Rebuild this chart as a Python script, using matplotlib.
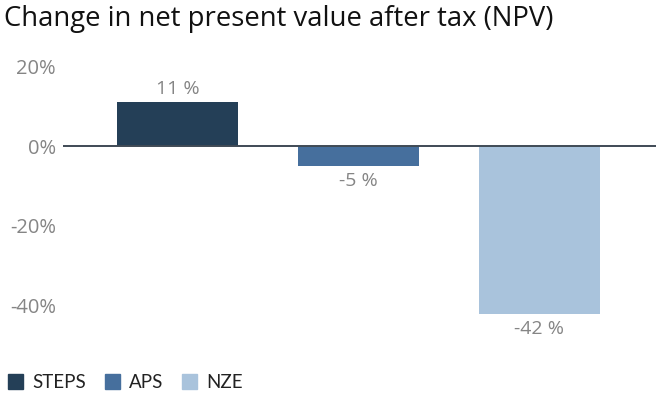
import matplotlib
matplotlib.use('agg')
import matplotlib.pyplot as plt
from matplotlib.patches import Patch

plt.rcParams['font.family'] = ['Open Sans', 'DejaVu Sans']

scenarios = ['STEPS', 'APS', 'NZE']
npv_change = [11, -5, -42]
bar_labels = ['11 %', '-5 %', '-42 %']
colors = ['#243f57', '#466f9d', '#a9c3dc']
yticks = [20, 0, -20, -40]
ytick_labels = ['20%', '0%', '-20%', '-40%']

fig = plt.figure(figsize=(6.56, 3.96), dpi=100)
ax = fig.add_axes([0.096, 0.177, 0.904, 0.656])

x = range(len(scenarios))
bars = ax.bar(x, npv_change, width=0.668, color=colors)
ax.axhline(0, color='#3f4a55', lw=1.4, zorder=3)

for b, lab, v in zip(bars, bar_labels, npv_change):
    cx = b.get_x() + b.get_width() / 2
    off = 3 if v >= 0 else -4.5
    ax.annotate(lab, (cx, v), xytext=(0, off), textcoords='offset points',
                ha='center', va='bottom' if v >= 0 else 'top',
                fontsize=14, color='#858585')

ax.set_xlim(-0.633, 2.644)
ax.set_ylim(-45, 20)
ax.set_yticks(yticks)
ax.set_yticklabels(ytick_labels, fontsize=14.5, color='#858585')
ax.tick_params(axis='y', length=0, pad=5)
ax.set_xticks([])
for s in ax.spines.values():
    s.set_visible(False)

fig.text(0.006, 0.952, 'Change in net present value after tax (NPV)',
         fontsize=19.8, color='#111111', va='center', ha='left')

handles = [Patch(color=c) for c in colors]
fig.legend(handles, scenarios, loc='center left', bbox_to_anchor=(-0.014, 0.035),
           ncol=3, frameon=False, handlelength=0.8, handleheight=0.85,
           handletextpad=0.5, columnspacing=1.0, labelcolor='#222222',
           prop={'family': 'Lato', 'size': 13.5})

fig.savefig('out.png', dpi=100)
